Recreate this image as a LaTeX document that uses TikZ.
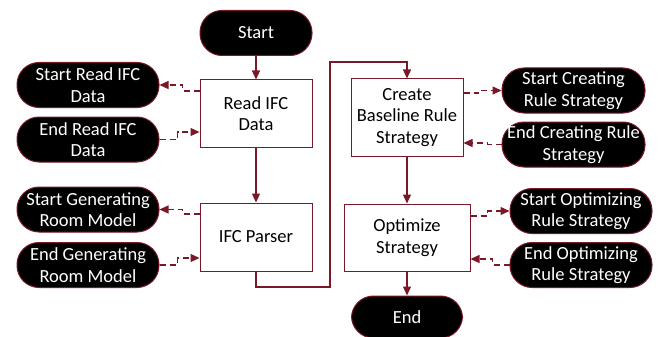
\documentclass[tikz,border=0pt]{standalone}
\usepackage{fontspec}
\setmainfont{Carlito}
\usetikzlibrary{arrows.meta}
\definecolor{wine}{RGB}{122,24,40}
\tikzset{
  pill/.style={draw=wine, line width=1pt, fill=black, text=white, rounded corners=22pt,
    minimum height=45pt, inner sep=0pt, align=center, font=\fontsize{18.5}{21.5}\selectfont},
  stepbox/.style={draw=wine, line width=1pt, fill=white, text=black, inner sep=0pt,
    align=center, font=\fontsize{18.5}{21.5}\selectfont},
  arr/.style={draw=wine, line width=1.3pt, -{Triangle[length=9pt,width=8pt]}},
  dasharr/.style={arr, dash pattern=on 6pt off 4pt},
  link/.style={draw=wine, line width=1.3pt}
}
\begin{document}
\begin{tikzpicture}[x=1pt,y=-1pt]
\useasboundingbox[fill=white] (0,0) rectangle (659,337);

% main flow, left column
\node[pill, minimum width=112pt] (start) at (256,33) {Start};
\node[stepbox, minimum width=112pt, minimum height=67pt] (read) at (256,113.5) {Read IFC\\Data};
\node[stepbox, minimum width=112pt, minimum height=68pt] (parser) at (256,237) {IFC Parser};

% main flow, right column
\node[stepbox, minimum width=112pt, minimum height=77pt] (create) at (407,117.5) {Create\\Baseline Rule\\Strategy};
\node[stepbox, minimum width=126pt, minimum height=67pt] (optim) at (407,237.5) {Optimize\\Strategy};
\node[pill, minimum width=111pt, minimum height=42pt] (end) at (407,317) {End};

% status events, left side
\node[pill, minimum width=142pt] (sr) at (88,85) {Start Read IFC\\Data};
\node[pill, minimum width=142pt] (er) at (88,139.5) {End Read IFC\\Data};
\node[pill, minimum width=142pt] (sg) at (88,209.5) {Start Generating\\Room Model};
\node[pill, minimum width=142pt] (eg) at (88,265) {End Generating\\Room Model};

% status events, right side
\node[pill, minimum width=143pt] (sc) at (573.5,90.5) {Start Creating\\Rule Strategy};
\node[pill, minimum width=143pt] (ec) at (573.5,144.5) {End Creating Rule\\Strategy};
\node[pill, minimum width=142pt] (so) at (581,211) {Start Optimizing\\Rule Strategy};
\node[pill, minimum width=142pt] (eo) at (581,265) {End Optimizing\\Rule Strategy};

% routing points of the link between the two columns
\coordinate (j1) at (330,287);
\coordinate (j2) at (330,62);

% solid flow connectors
\draw[arr] (start) -- (read);
\draw[arr] (read) -- (parser);
\draw[arr] (parser.south) |- (j1) -- (j2) -| (create.north);
\draw[arr] (create) -- (optim);
\draw[arr] (optim) -- (end);

% dashed event connectors, left side
\draw[dasharr] ([yshift=22.5pt]read.west) -- ++(-17pt,0) |- (sr.east);
\draw[dasharr] (er.east) -- ++(18pt,0) |- ([yshift=-18.5pt]read.west);
\draw[dasharr] ([yshift=23pt]parser.west) -- ++(-17pt,0) |- (sg.east);
\draw[dasharr] (eg.east) -- ++(18pt,0) |- ([yshift=-21pt]parser.west);

% dashed event connectors, right side
\draw[dasharr] ([yshift=24.5pt]create.east) -- ++(15pt,0) |- (sc.west);
\draw[dasharr] (ec.west) -- ++(-14pt,0) |- ([yshift=-25.5pt]create.east);
\draw[dasharr] ([yshift=21.5pt]optim.east) -- ++(17pt,0) |- (so.west);
\draw[dasharr] (eo.west) -- ++(-17pt,0) |- ([yshift=-21.5pt]optim.east);
\end{tikzpicture}
\end{document}
